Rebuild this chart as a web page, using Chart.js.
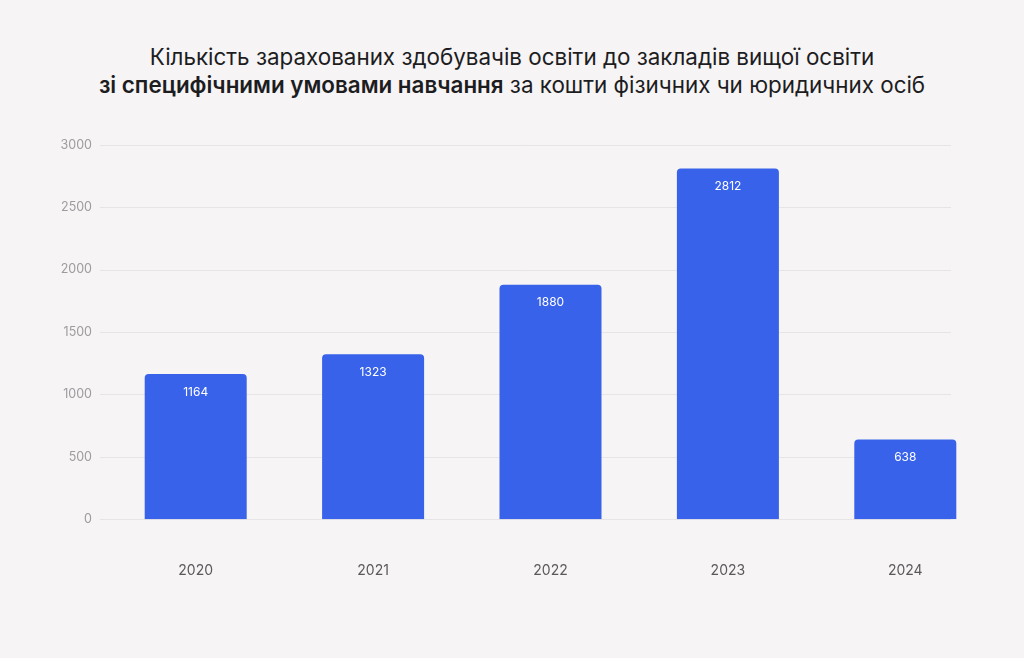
<!DOCTYPE html>
<html lang="uk">
<head>
<meta charset="utf-8">
<script src="https://cdn.jsdelivr.net/npm/chart.js@4"></script>
<style>
    html, body { margin: 0; padding: 0; background: #f6f4f5; }
    body { width: 1024px; height: 658px; position: relative; overflow: hidden; font-family: Inter, 'Noto Sans', sans-serif; }
    #title {
        position: absolute; left: 0; top: 43px; width: 1024px;
        text-align: center; font-size: 22.4px; line-height: 28px; color: #1d1d1f;
    }
    #title b { font-weight: 600; }
    #wrap { position: absolute; left: 0; top: 0; width: 1024px; height: 658px; }
</style>
</head>
<body>
<div id="title">Кількість зарахованих здобувачів освіти до закладів вищої освіти<br><b>зі специфічними умовами навчання</b> за кошти фізичних чи юридичних осіб</div>
<div id="wrap"><canvas id="chart"></canvas></div>
<script>
document.addEventListener('DOMContentLoaded', () => {
    // Data
    const years = ['2020', '2021', '2022', '2023', '2024'];
    const enrolled = [1164, 1323, 1880, 2812, 638];
    const yTicks = [0, 500, 1000, 1500, 2000, 2500, 3000];

    const barColor = '#3862ea';

    // horizontal grid lines, drawn shorter than the bar area like in the original
    const gridLines = {
        id: 'gridLines',
        beforeDatasetsDraw(chart) {
            const ctx = chart.ctx;
            const y = chart.scales.y;
            ctx.save();
            ctx.strokeStyle = '#e6e4e6';
            ctx.lineWidth = 1;
            yTicks.forEach(v => {
                const py = Math.round(y.getPixelForValue(v)) + 0.5;
                ctx.beginPath();
                ctx.moveTo(100, py);
                ctx.lineTo(951, py);
                ctx.stroke();
            });
            ctx.restore();
        }
    };

    // value labels inside bars
    const valueLabels = {
        id: 'valueLabels',
        afterDatasetsDraw(chart) {
            const ctx = chart.ctx;
            const meta = chart.getDatasetMeta(0);
            ctx.save();
            ctx.fillStyle = '#ffffff';
            ctx.font = '12px Inter, "Noto Sans", sans-serif';
            ctx.textAlign = 'center';
            ctx.textBaseline = 'middle';
            meta.data.forEach((bar, i) => {
                ctx.fillText(String(enrolled[i]), bar.x, bar.y + 18);
            });
            ctx.restore();
        }
    };

    const ctx = document.getElementById('chart').getContext('2d');
    new Chart(ctx, {
        type: 'bar',
        data: {
            labels: years,
            datasets: [{
                data: enrolled,
                backgroundColor: barColor,
                borderWidth: 0,
                borderRadius: { topLeft: 4, topRight: 4, bottomLeft: 0, bottomRight: 0 },
                borderSkipped: 'bottom',
                categoryPercentage: 1,
                barPercentage: 0.575
            }]
        },
        options: {
            responsive: false,
            animation: false,
            devicePixelRatio: 1,
            layout: {
                padding: { left: 0, right: 30, top: 145, bottom: 36 }
            },
            plugins: {
                legend: { display: false },
                title: { display: false },
                tooltip: { enabled: false }
            },
            scales: {
                y: {
                    min: 0,
                    max: 3000,
                    afterBuildTicks: scale => {
                        scale.ticks = yTicks.map(v => ({ value: v }));
                    },
                    afterFit: scale => { scale.width = 107; },
                    border: { display: false },
                    grid: { display: false, drawTicks: false },
                    ticks: {
                        padding: 15,
                        color: '#9d9b9e',
                        font: { family: 'Inter', size: 12.5 },
                        callback: value => String(value)
                    }
                },
                x: {
                    border: { display: false },
                    grid: { display: false, drawTicks: false },
                    ticks: {
                        padding: 43,
                        color: '#5a585b',
                        font: { family: 'Inter', size: 14 }
                    }
                }
            }
        },
        plugins: [gridLines, valueLabels]
    });
});
</script>
<script>
    // size canvas before chart creation
    const c = document.getElementById('chart');
    c.width = 1024; c.height = 658;
    c.style.width = '1024px'; c.style.height = '658px';
</script>
</body>
</html>
